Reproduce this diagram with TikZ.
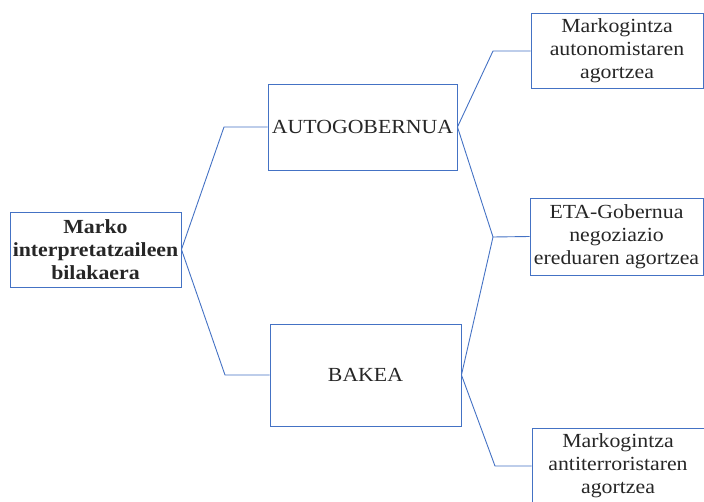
\documentclass[tikz,border=0pt]{standalone}
\usepackage{fontspec}
\setmainfont{Liberation Serif}[FakeStretch=1.09]
\begin{document}
\begin{tikzpicture}[x=1pt,y=-1pt,
  box/.style={draw=linkblue,line width=0.9pt,rectangle,inner sep=0pt,align=center,
     font=\fontsize{20}{23}\selectfont,text=black!85},
  link/.style={draw=linkblue,line width=0.9pt}]
\definecolor{linkblue}{HTML}{4472C4}
\useasboundingbox (0,0) rectangle (704,502);
\node[box,minimum width=171pt,minimum height=75pt,font=\fontsize{20}{23}\selectfont\bfseries] (root) at (95.5,249.5) {Marko\\interpretatzaileen\\bilakaera};
\node[box,minimum width=189pt,minimum height=86pt] (auto) at (362.5,127) {AUTOGOBERNUA};
\node[box,minimum width=191pt,minimum height=102pt] (bake) at (365.5,375) {BAKEA};
\node[box,minimum width=172pt,minimum height=75pt] (r1) at (617,51) {Markogintza\\autonomistaren\\agortzea};
\node[box,minimum width=173pt,minimum height=77pt] (r2) at (616.5,236.5) {ETA-Gobernua\\negoziazio\\ereduaren agortzea};
\node[box,minimum width=172pt,minimum height=75pt] (r3) at (618,466) {Markogintza\\antiterroristaren\\agortzea};
\coordinate (c1) at (224,127);
\coordinate (c2) at (225,375);
\coordinate (c3) at (493,51);
\coordinate (c4) at (493,237);
\coordinate (c5) at (495,466);
\draw[link] (root.east) -- (c1) -- (auto.west);
\draw[link] (root.east) -- (c2) -- (bake.west);
\draw[link] (auto.east) -- (c3) -- (r1.west);
\draw[link] (auto.east) -- (c4) -- (r2.west);
\draw[link] (bake.east) -- (c4);
\draw[link] (bake.east) -- (c5) -- (r3.west);
\end{tikzpicture}
\end{document}
